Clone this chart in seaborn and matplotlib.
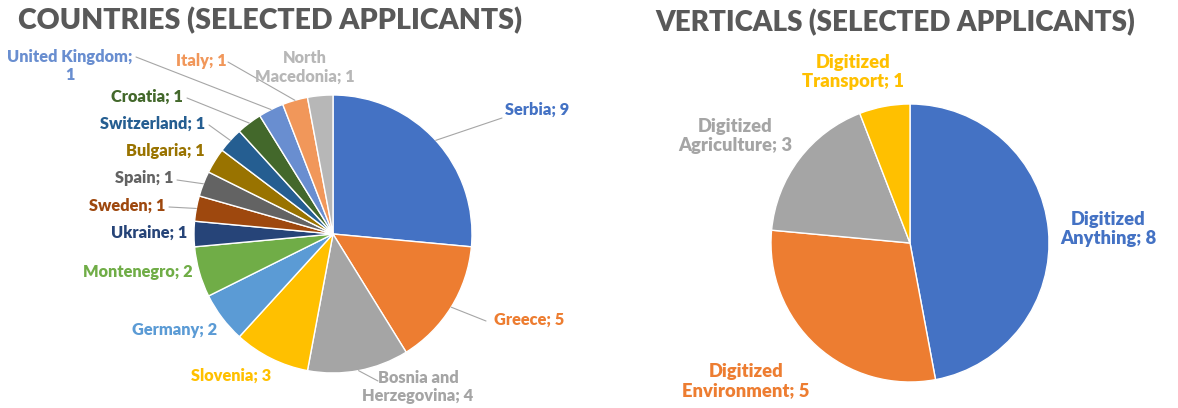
import numpy as np
import seaborn as sns
import matplotlib.pyplot as plt

countries = ["Serbia", "Greece", "Bosnia and\nHerzegovina", "Slovenia", "Germany",
             "Montenegro", "Ukraine", "Sweden", "Spain", "Bulgaria", "Switzerland",
             "Croatia", "United Kingdom;\n", "Italy", "North\nMacedonia"]
country_counts = [9, 5, 4, 3, 2, 2, 1, 1, 1, 1, 1, 1, 1, 1, 1]
country_colors = ["#4472C4", "#ED7D31", "#A5A5A5", "#FFC000", "#5B9BD5", "#70AD47",
                  "#264478", "#9E480E", "#636363", "#997300", "#255E91", "#43682B",
                  "#698ED0", "#F1975A", "#B7B7B7"]

verticals = ["Digitized\nAnything", "Digitized\nEnvironment", "Digitized\nAgriculture",
             "Digitized\nTransport"]
vertical_counts = [8, 5, 3, 1]
vertical_colors = ["#4472C4", "#ED7D31", "#A5A5A5", "#FFC000"]

# layout in pixels (x, y from top), label anchors and whether a leader line is drawn
country_label_pos = [(537, 110, "center", True), (529, 320, "center", True),
                     (418, 387, "center", True), (231, 376, "center", False),
                     (175, 330, "center", False), (193, 272, "right", False),
                     (187, 233, "right", False), (165, 206, "right", True),
                     (173, 178, "right", True), (205, 151, "right", False),
                     (205, 124, "right", True), (183, 97, "right", True),
                     (70, 66, "center", True), (201, 61, "center", True),
                     (305, 67, "center", False)]
country_line_end = [(502, 118), (486, 321), (378, 381), None, None, None, None,
                    (169, 207), (177, 180), None, (209, 125), (187, 98),
                    (136, 57), (228, 62), None]
vertical_label_pos = [(1108, 229, "center"), (746, 381, "center"),
                      (735, 136, "center"), (853, 72, "center")]

H = 408
sns.set_theme(style="white")
plt.rcParams["font.family"] = ["Lato", "DejaVu Sans"]

fig = plt.figure(figsize=(11.78, 4.08), dpi=100)
ax = fig.add_axes([0, 0, 1, 1])


def label_text(name, n):
    if name.endswith(";\n"):
        return f"{name}{n}"
    return f"{name}; {n}"


# left pie
c1, r1 = (333, H - 234), 139
wedges, _ = ax.pie(country_counts, colors=country_colors, startangle=90,
                   counterclock=False, center=c1, radius=r1, frame=True,
                   wedgeprops=dict(edgecolor="white", linewidth=1))
for w, name, n, col, (lx, ly, ha, has_line), end in zip(
        wedges, countries, country_counts, country_colors, country_label_pos,
        country_line_end):
    ax.text(lx, H - ly, label_text(name, n), color=col, ha=ha, va="center",
            fontsize=11.8, fontweight="heavy", linespacing=1.2, multialignment="center")
    if has_line and end is not None:
        ang = np.deg2rad((w.theta1 + w.theta2) / 2)
        px, py = c1[0] + r1 * np.cos(ang), c1[1] + r1 * np.sin(ang)
        ax.plot([px, end[0]], [py, H - end[1]], color="#A6A6A6", lw=0.8)

# right pie
c2, r2 = (910, H - 243), 139
ax.pie(vertical_counts, colors=vertical_colors, startangle=90,
       counterclock=False, center=c2, radius=r2, frame=True,
       wedgeprops=dict(edgecolor="white", linewidth=1))
for name, n, col, (lx, ly, ha) in zip(verticals, vertical_counts, vertical_colors,
                                       vertical_label_pos):
    ax.text(lx, H - ly, f"{name}; {n}", color=col, ha=ha, va="center",
            fontsize=13.2, fontweight="heavy", linespacing=1.15, multialignment="center")

ax.set_xlim(0, 1178)
ax.set_ylim(0, H)
ax.axis("off")

ax.text(270, H - 21, "COUNTRIES (SELECTED APPLICANTS)", ha="center", va="center",
        fontsize=20.5, fontweight="heavy", color="#595959")
ax.text(895, H - 23, "VERTICALS (SELECTED APPLICANTS)", ha="center", va="center",
        fontsize=20, fontweight="heavy", color="#595959")

fig.savefig("out.png", dpi=100, facecolor="white")
